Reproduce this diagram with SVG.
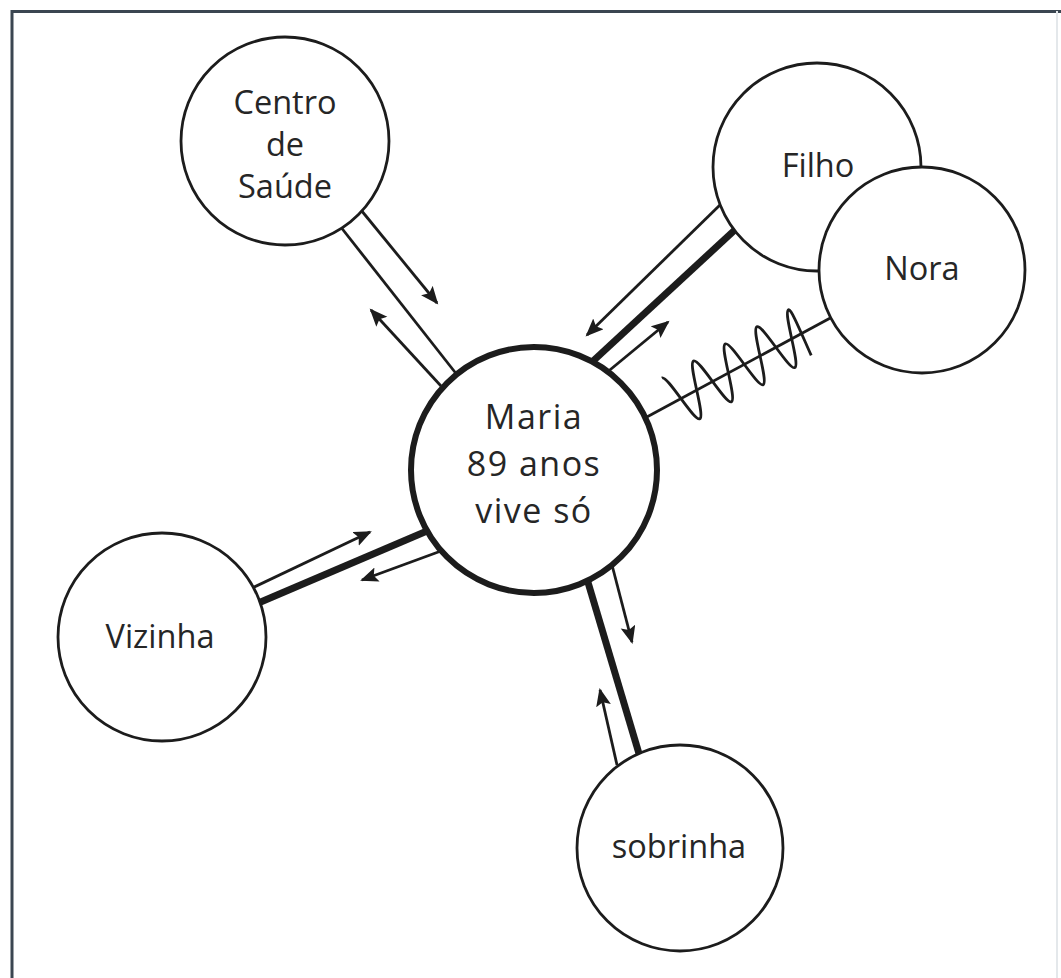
<svg xmlns="http://www.w3.org/2000/svg" width="1061" height="978" viewBox="0 0 1061 978">
<style>
  .frame { fill: none; stroke: #3b4651; stroke-width: 3; }
  .node circle { fill: #ffffff; stroke: #1c1c1c; stroke-width: 2.8; }
  #maria circle { stroke-width: 6; }
  .lbl { font-family: "Open Sans", "Liberation Sans", sans-serif; font-size: 32.5px; fill: #262626; text-anchor: middle; }
  #maria .lbl { font-size: 34px; letter-spacing: 1.5px; }
  .conn line, .conn path { stroke: #1c1c1c; fill: none; }
  .thin { stroke-width: 2.8; }
  .thick { stroke-width: 7; }
  .arrow { stroke-width: 2.8; marker-end: url(#ah); }
</style>
<defs>
  <marker id="ah" markerUnits="userSpaceOnUse" markerWidth="19" markerHeight="16" refX="16" refY="7.5" orient="auto">
    <path d="M0,0 L18,7.5 L0,15 L3.5,7.5 Z" fill="#1c1c1c"/>
  </marker>
</defs>
<rect x="0" y="0" width="1061" height="978" fill="#ffffff"/>
<g id="frame">
  <path class="frame" d="M12,978 V11.5 H1061"/>
  <line x1="1057" y1="11" x2="1057" y2="978" stroke="#e4e8eb" stroke-width="2"/>
</g>
<g id="connectors" class="conn">
  <!-- Centro de Saúde -->
  <line class="thin" x1="340" y1="226" x2="458" y2="376"/>
  <line class="arrow" x1="361" y1="210" x2="437" y2="303"/>
  <line class="arrow" x1="441" y1="386" x2="371" y2="310"/>
  <!-- Filho -->
  <line class="thick" x1="592" y1="362" x2="738" y2="227"/>
  <line class="arrow" x1="722" y1="203" x2="587" y2="335"/>
  <line class="arrow" x1="608" y1="371.5" x2="668" y2="322"/>
  <!-- Nora -->
  <line class="thin" x1="645" y1="418" x2="834" y2="316"/>
  <path class="thin" vector-effect="non-scaling-stroke" transform="matrix(0.88,-0.474,0.41,0.913,650,415)" d="M26,-27 C32.5,-27 37.5,27 44,27 C50.5,27 55.5,-27 62,-27 C68.5,-27 73.5,27 80,27 C86.5,27 91.5,-27 98,-27 C104.5,-27 109.5,27 116,27 C122.5,27 127.5,-27 134,-27 C140.5,-27 145.5,27 152,27 C158.5,27 163.5,-27 170,-27 C173,-27 172,0 172,24"/>
  <!-- Vizinha -->
  <line class="thick" x1="256" y1="604" x2="427" y2="531"/>
  <line class="arrow" x1="250" y1="589" x2="370" y2="532"/>
  <line class="arrow" x1="441" y1="551" x2="362" y2="580"/>
  <!-- sobrinha -->
  <line class="thick" x1="587" y1="579" x2="640" y2="757"/>
  <line class="arrow" x1="612" y1="565" x2="632" y2="642"/>
  <line class="arrow" x1="617" y1="765" x2="600" y2="690"/>
</g>
<g id="nodes">
  <g id="centro" class="node">
    <circle cx="285" cy="141" r="104"/>
    <text class="lbl" x="285" y="114">Centro</text>
    <text class="lbl" x="285" y="156">de</text>
    <text class="lbl" x="285" y="198">Saúde</text>
  </g>
  <g id="filho" class="node">
    <circle cx="817" cy="167" r="104"/>
    <text class="lbl" x="818" y="177">Filho</text>
  </g>
  <g id="nora" class="node">
    <circle cx="922" cy="270" r="103"/>
    <text class="lbl" x="922" y="280">Nora</text>
  </g>
  <g id="vizinha" class="node">
    <circle cx="162" cy="637" r="104"/>
    <text class="lbl" x="160" y="648">Vizinha</text>
  </g>
  <g id="sobrinha" class="node">
    <circle cx="680" cy="848" r="103"/>
    <text class="lbl" x="679" y="858">sobrinha</text>
  </g>
  <g id="maria" class="node">
    <circle cx="534" cy="470" r="123"/>
    <text class="lbl" x="534" y="429">Maria</text>
    <text class="lbl" x="534" y="476">89 anos</text>
    <text class="lbl" x="534" y="523">vive só</text>
  </g>
</g>
</svg>
